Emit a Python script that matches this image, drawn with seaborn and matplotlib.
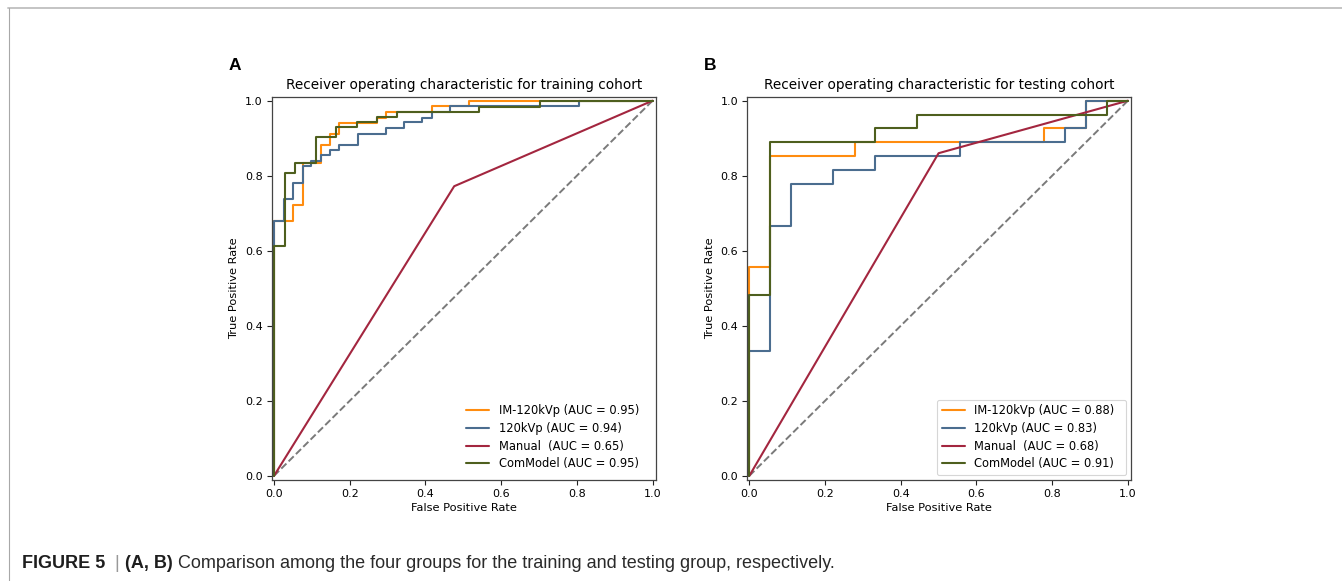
import numpy as np
import pandas as pd
import matplotlib
matplotlib.use("Agg")
import matplotlib.pyplot as plt
import seaborn as sns
from matplotlib.lines import Line2D

# ---------------- data ----------------
series_names = ["IM-120kVp", "120kVp", "Manual", "ComModel"]
series_colors = ["#ff8c0f", "#4b6d8f", "#a3263f", "#4e5f1e"]

train_auc = ["0.95", "0.94", "0.65", "0.95"]
test_auc = ["0.88", "0.83", "0.68", "0.91"]

# training cohort
train_im_fpr = [0, 0, 0.051, 0.051, 0.076, 0.076, 0.124, 0.124, 0.148, 0.148, 0.172, 0.172,
                0.272, 0.272, 0.296, 0.296, 0.417, 0.417, 0.515, 0.515, 1.0]
train_im_tpr = [0, 0.68, 0.68, 0.723, 0.723, 0.835, 0.835, 0.883, 0.883, 0.912, 0.912, 0.94,
                0.94, 0.955, 0.955, 0.969, 0.969, 0.985, 0.985, 1.0, 1.0]
train_kv_fpr = [0, 0, 0.027, 0.027, 0.051, 0.051, 0.076, 0.076, 0.098, 0.098, 0.124, 0.124,
                0.149, 0.149, 0.172, 0.172, 0.221, 0.221, 0.296, 0.296, 0.344, 0.344,
                0.392, 0.392, 0.417, 0.417, 0.465, 0.465, 0.806, 0.806, 1.0]
train_kv_tpr = [0, 0.68, 0.68, 0.738, 0.738, 0.781, 0.781, 0.825, 0.825, 0.839, 0.839, 0.854,
                0.854, 0.868, 0.868, 0.883, 0.883, 0.912, 0.912, 0.927, 0.927, 0.942,
                0.942, 0.955, 0.955, 0.969, 0.969, 0.985, 0.985, 1.0, 1.0]
train_man_fpr = [0, 0.476, 1.0]
train_man_tpr = [0, 0.772, 1.0]
train_com_fpr = [0, 0, 0.030, 0.030, 0.056, 0.056, 0.111, 0.111, 0.164, 0.164, 0.219, 0.219,
                 0.272, 0.272, 0.326, 0.326, 0.542, 0.542, 0.703, 0.703, 1.0]
train_com_tpr = [0, 0.613, 0.613, 0.807, 0.807, 0.834, 0.834, 0.902, 0.902, 0.930, 0.930, 0.944,
                 0.944, 0.957, 0.957, 0.971, 0.971, 0.984, 0.984, 1.0, 1.0]

# testing cohort
test_im_fpr = [0, 0, 0.056, 0.056, 0.278, 0.278, 0.778, 0.778, 0.889, 0.889, 1.0]
test_im_tpr = [0, 0.556, 0.556, 0.852, 0.852, 0.889, 0.889, 0.926, 0.926, 1.0, 1.0]
test_kv_fpr = [0, 0, 0.056, 0.056, 0.111, 0.111, 0.222, 0.222, 0.333, 0.333, 0.556, 0.556,
               0.833, 0.833, 0.889, 0.889, 1.0]
test_kv_tpr = [0, 0.333, 0.333, 0.667, 0.667, 0.778, 0.778, 0.815, 0.815, 0.852, 0.852, 0.889,
               0.889, 0.926, 0.926, 1.0, 1.0]
test_man_fpr = [0, 0.5, 1.0]
test_man_tpr = [0, 0.86, 1.0]
test_com_fpr = [0, 0, 0.056, 0.056, 0.333, 0.333, 0.444, 0.444, 0.944, 0.944, 1.0]
test_com_tpr = [0, 0.481, 0.481, 0.889, 0.889, 0.926, 0.926, 0.963, 0.963, 1.0, 1.0]

chance_x = [0, 1]
chance_y = [0, 1]

ticks = [0.0, 0.2, 0.4, 0.6, 0.8, 1.0]
tick_labels = ["0.0", "0.2", "0.4", "0.6", "0.8", "1.0"]

titles = ["Receiver operating characteristic for training cohort",
          "Receiver operating characteristic for testing cohort"]
panel_letters = ["A", "B"]

# ---------------- style ----------------
sns.set_theme(style="ticks")
plt.rcParams["font.family"] = ["DejaVu Sans"]
plt.rcParams["axes.edgecolor"] = "#444444"
plt.rcParams["axes.linewidth"] = 0.9
plt.rcParams["text.color"] = "black"
plt.rcParams["axes.labelcolor"] = "black"
plt.rcParams["xtick.color"] = "black"
plt.rcParams["ytick.color"] = "black"
plt.rcParams["axes.titlecolor"] = "black"

fig = plt.figure(figsize=(13.42, 5.81), dpi=100)
fig.patch.set_facecolor("white")

ax_pos = [[271.7 / 1342, (581 - 480) / 581, 384.3 / 1342, 382.7 / 581],
          [747.0 / 1342, (581 - 480) / 581, 384.3 / 1342, 382.7 / 581]]

panels = [
    ([train_im_fpr, train_kv_fpr, train_man_fpr, train_com_fpr],
     [train_im_tpr, train_kv_tpr, train_man_tpr, train_com_tpr], train_auc),
    ([test_im_fpr, test_kv_fpr, test_man_fpr, test_com_fpr],
     [test_im_tpr, test_kv_tpr, test_man_tpr, test_com_tpr], test_auc),
]

for i, (fprs, tprs, aucs) in enumerate(panels):
    ax = fig.add_axes(ax_pos[i])
    ax.set_facecolor("white")
    diag = pd.DataFrame({"x": chance_x, "y": chance_y})
    sns.lineplot(data=diag, x="x", y="y", ax=ax, color="#7a7a7a", lw=1.4,
                 linestyle="--", sort=False, estimator=None, legend=False)
    for name, col, fx, ty, auc in zip(series_names, series_colors, fprs, tprs, aucs):
        df = pd.DataFrame({"fpr": fx, "tpr": ty})
        sep = "  " if name == "Manual" else " "
        sns.lineplot(data=df, x="fpr", y="tpr", ax=ax, color=col, lw=1.5,
                     sort=False, estimator=None,
                     label=f"{name}{sep}(AUC = {auc})  ")
    ax.set_xlim(-0.006, 1.009)
    ax.set_ylim(-0.011, 1.009)
    ax.set_xticks(ticks)
    ax.set_xticklabels(tick_labels)
    ax.set_yticks(ticks)
    ax.set_yticklabels(tick_labels)
    ax.tick_params(labelsize=8, length=3.5, width=0.8, color="#222222", pad=3)
    ax.set_xlabel("False Positive Rate", fontsize=8.2, labelpad=3)
    ax.set_ylabel("True Positive Rate", fontsize=8.2, labelpad=4)
    ax.set_title(titles[i], fontsize=9.85, pad=6)
    for s in ax.spines.values():
        s.set_visible(True)
    leg = ax.legend(loc="lower right", fontsize=8.3, frameon=(i == 1),
                    handlelength=2.0, borderaxespad=0.45, labelspacing=0.4)
    if i == 1:
        leg.get_frame().set_edgecolor("#cccccc")
        leg.get_frame().set_linewidth(0.8)
    fig.text((ax_pos[i][0] * 1342 - 43) / 1342, 1 - 65 / 581, panel_letters[i],
             fontsize=12.5, fontweight="bold", family=["Liberation Sans", "DejaVu Sans"],
             ha="left", va="center")

# page frame lines
fig.add_artist(Line2D([8 / 1342, 1.0], [1 - 7.5 / 581, 1 - 7.5 / 581],
                      transform=fig.transFigure, color="#c4c4c4", lw=1.4))
fig.add_artist(Line2D([8.5 / 1342, 8.5 / 1342], [0, 1 - 7.5 / 581],
                      transform=fig.transFigure, color="#a8a8a8", lw=0.8))

# caption
cap_parts = [("FIGURE 5", "bold", "#1e1e1e"), ("  | ", "normal", "#999999"),
             ("(A, B)", "bold", "#1e1e1e"),
             (" Comparison among the four groups for the training and testing group, respectively.",
              "normal", "#2a2a2a")]
fig.canvas.draw()
renderer = fig.canvas.get_renderer()
x_px = 22
y_frac = 1 - 563 / 581
for txt, wt, col in cap_parts:
    t = fig.text(x_px / 1342, y_frac, txt, fontsize=13, fontweight=wt, color=col,
                 family=["Liberation Sans", "DejaVu Sans"], ha="left", va="center")
    bb = t.get_window_extent(renderer=renderer)
    x_px += bb.width

fig.savefig("out.png", dpi=100, facecolor="white")
